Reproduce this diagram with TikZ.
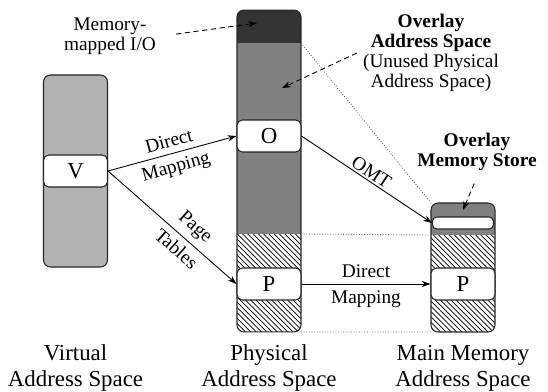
\documentclass[tikz,border=0pt]{standalone}
\usepackage{fontspec}
\setmainfont{Liberation Serif}
\usetikzlibrary{arrows.meta,patterns}

\begin{document}
\begin{tikzpicture}[x=0.02cm,y=-0.02cm,
    region/.style={inner sep=0,outer sep=0,minimum width=1.28cm},
    hatch/.style={pattern=north west lines},
    colline/.style={draw=black!85,line width=0.6pt,rounded corners=4pt},
    entry/.style={draw=black!85,line width=0.6pt,fill=white,rounded corners=3pt,%
      inner sep=0,minimum width=1.28cm,minimum height=0.64cm,%
      font=\fontsize{13}{15}\selectfont},
    note/.style={align=center,font=\fontsize{11}{11.4}\selectfont},
    caption/.style={align=center,font=\fontsize{13}{14.7}\selectfont},
    map/.style={-{Stealth[length=5pt,width=3.5pt]},line width=0.5pt},
    point/.style={densely dashed,-{Stealth[length=5pt,width=3.5pt]},line width=0.5pt},
    guide/.style={densely dotted,black!60,line width=0.5pt}]
      \useasboundingbox (0,0) rectangle (548,392) ;
      \node[region,colline,fill=black!30,minimum height=3.84cm] (virt) at (75.5,171) {} ;
      \node[entry] (V) at (75.5,171) {V} ;
      \begin{scope}
        \clip[rounded corners=4pt] (237,10) rectangle (301,332) ;
        \node[region,fill=black!80,minimum height=0.66cm] (mmio) at (269,26.5) {} ;
        \node[region,fill=black!50,minimum height=3.82cm] (ovl) at (269,138.5) {} ;
        \node[region,hatch,minimum height=1.96cm] (phold) at (269,283) {} ;
      \end{scope}
      \node[region,colline,minimum height=6.44cm] (phys) at (269,171) {} ;
      \begin{scope}
        \clip[rounded corners=4pt] (431,203) rectangle (495,332) ;
        \node[region,fill=black!50,minimum height=0.64cm] (store) at (463,219) {} ;
        \node[region,hatch,minimum height=1.94cm] (mhold) at (463,283.5) {} ;
      \end{scope}
      \node[region,colline,minimum height=2.58cm] (main) at (463,267.5) {} ;
      \node[entry,minimum width=1.22cm,minimum height=0.24cm,rounded corners=2.5pt] %
      (slot) at (463,223) {} ;
      \node[entry] (O) at (269,136) {O} ;
      \node[entry] (P) at (269,284) {P} ;
      \node[entry] (Pm) at (463,284) {P} ;
      % mappings
      \draw[map] (V.east) -- node[note,above,sloped]{Direct} %
      node[note,below,sloped]{Mapping} (O.west) ;
      \draw[map] (V.east) -- node[note,above,sloped,pos=0.6]{Page} %
      node[note,below,sloped,pos=0.6]{Tables} (P.west) ;
      \draw[map] (O.east) -- node[note,above,sloped,inner sep=1pt]{OMT} (slot.west) ;
      \draw[map] (P.east) -- node[note,above]{Direct} node[note,below]{Mapping} (Pm.west) ;
      \draw[guide] (mmio.south east) -- (store.north west) ;
      \draw[guide] (phold.north east) -- (mhold.north west) ;
      \draw[guide] (phold.south east) -- (mhold.south west) ;
      % annotations
      \node[note] (mmiotxt) at (110,36) {Memory-\\mapped I/O} ;
      \coordinate (mmiotip) at (257,23) ;
      \draw[point,shorten <=8pt] (mmiotxt.east) -- (mmiotip) ;
      \node[note] (ovltxt) at (431,53) {\textbf{Overlay}\\\textbf{Address Space}\\%
      (Unused Physical\\Address Space)} ;
      \coordinate (ovltip) at (282,88) ;
      \draw[point] (ovltxt.west) -- (ovltip) ;
      \node[note,font=\fontsize{11}{11.4}\selectfont\bfseries] (storetxt) at (477,152) %
      {Overlay\\Memory Store} ;
      \coordinate (storetip) at (463,210) ;
      \draw[point,shorten <=4pt] (storetxt.south) -- (storetip) ;
      \node[caption] (vcap) at (75.5,368) {Virtual\\Address Space} ;
      \node[caption] (pcap) at (269,368) {Physical\\Address Space} ;
      \node[caption] (mcap) at (463,368) {Main Memory\\Address Space} ;
    \end{tikzpicture}
\end{document}
